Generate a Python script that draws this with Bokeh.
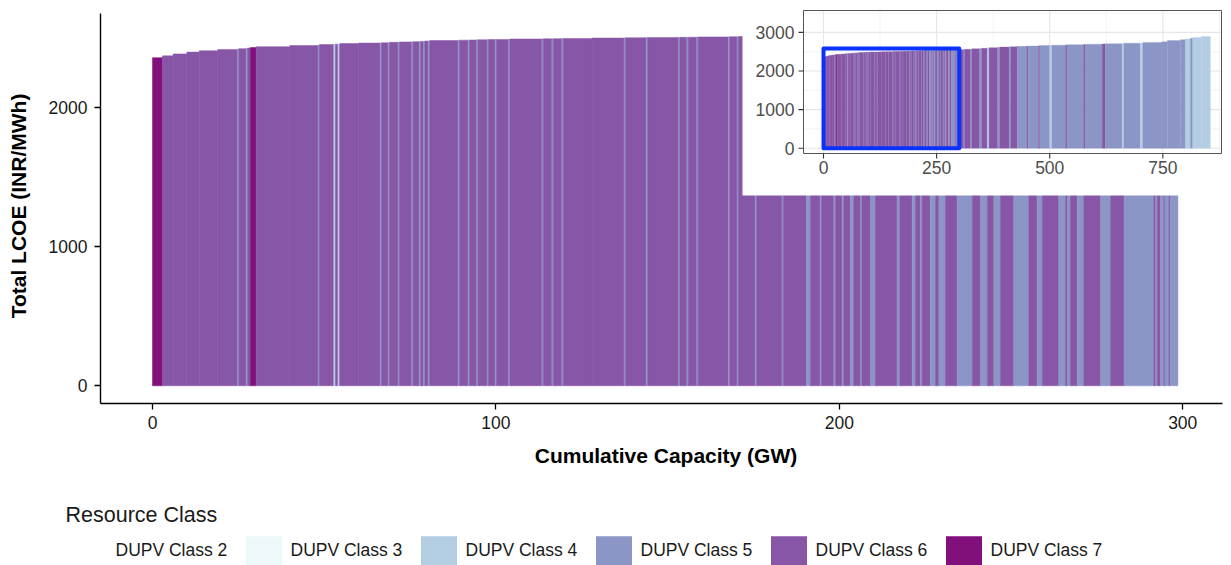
import numpy as np
from bokeh.plotting import figure
from bokeh.models import Range1d, FixedTicker, ColumnDataSource, Legend, LegendItem
from bokeh.embed import file_html
from bokeh.resources import INLINE
from bokeh.core.properties import value

# ---------------- data ----------------
class_names = ["DUPV Class 2", "DUPV Class 3", "DUPV Class 4",
               "DUPV Class 5", "DUPV Class 6", "DUPV Class 7"]
class_colors = ["#ffffff", "#edf8fb", "#b3cde3", "#8c96c6", "#8856a7", "#810f7c"]

# capacity of each site (GW), in supply-curve order
capacity_gw = [
    2.9, 3.1, 4.0, 3.6, 5.4, 5.8, 0.4, 2.1, 0.4, 0.8,
    1.7, 9.8, 8.2, 0.4, 4.2, 0.5, 0.7, 0.5, 5.5, 6.3,
    0.4, 1.9, 0.4, 2.5, 0.4, 3.6, 0.4, 1.8, 0.4, 0.8,
    0.4, 1.0, 0.4, 8.3, 0.4, 2.5, 0.4, 2.1, 0.4, 2.6,
    0.4, 2.0, 0.4, 3.5, 0.4, 9.3, 0.4, 2.5, 0.4, 2.5,
    0.4, 8.4, 9.3, 0.4, 6.1, 0.4, 9.0, 0.4, 2.0, 0.4,
    2.5, 0.4, 8.8, 0.4, 2.1, 0.4, 4.9, 0.4, 7.4, 0.4,
    6.7, 1.2, 2.8, 0.4, 3.6, 0.5, 1.9, 0.5, 1.9, 1.0,
    2.0, 0.4, 2.5, 1.4, 6.3, 0.8, 3.6, 1.0, 1.4, 0.5,
    2.4, 1.5, 1.0, 1.9, 3.4, 4.4, 2.4, 2.0, 1.9, 1.9,
    3.9, 4.4, 2.4, 1.5, 4.8, 2.0, 0.5, 0.9, 2.0, 1.9,
    4.9, 2.9, 3.9, 8.7, 0.5, 0.5, 0.9, 1.0, 0.3, 1.2,
    0.3, 2.3,
    11.4, 2.0, 13.0, 3.0, 17.0, 5.0, 12.0, 4.0, 19.0, 5.0,
    20.0, 4.0, 14.0, 22.0, 3.0, 22.0, 3.0, 22.0, 5.0, 30.0,
    3.0, 37.0, 3.0, 38.0, 7.0, 37.0, 4.0, 36.0, 6.0, 42.0,
    12.0, 29.0, 11.0, 11.0, 5.0, 19.0, 20.0,
]
# total LCOE of each site (INR/MWh)
lcoe_inr_mwh = [
    2355, 2368, 2382, 2395, 2405, 2414, 2418, 2420, 2422, 2424,
    2428, 2434, 2442, 2445, 2449, 2451, 2452, 2453, 2456, 2460,
    2461, 2462, 2463, 2465, 2466, 2468, 2469, 2470, 2471, 2472,
    2473, 2474, 2475, 2478, 2480, 2481, 2481, 2482, 2483, 2484,
    2484, 2485, 2485, 2486, 2487, 2489, 2490, 2490, 2491, 2491,
    2492, 2493, 2496, 2497, 2498, 2499, 2500, 2501, 2501, 2502,
    2502, 2503, 2504, 2505, 2505, 2506, 2507, 2508, 2510, 2511,
    2513, 2514, 2515, 2516, 2517, 2518, 2518, 2519, 2519, 2520,
    2520, 2521, 2521, 2522, 2524, 2525, 2526, 2527, 2527, 2528,
    2528, 2529, 2529, 2530, 2531, 2532, 2533, 2534, 2534, 2535,
    2536, 2537, 2538, 2538, 2539, 2540, 2540, 2541, 2541, 2542,
    2543, 2544, 2545, 2546, 2546, 2547, 2547, 2547, 2547, 2548,
    2548, 2548,
    2552, 2556, 2562, 2566, 2574, 2580, 2588, 2595, 2605, 2612,
    2620, 2625, 2630, 2638, 2642, 2648, 2652, 2660, 2664, 2670,
    2675, 2682, 2686, 2695, 2700, 2708, 2712, 2720, 2726, 2740,
    2755, 2790, 2810, 2830, 2845, 2865, 2893,
]
# DUPV resource class of each site
resource_class = [
    7, 6, 6, 6, 6, 6, 5, 6, 5, 6,
    7, 6, 6, 5, 6, 4, 6, 4, 6, 6,
    5, 6, 5, 6, 5, 6, 5, 6, 5, 6,
    5, 6, 5, 6, 5, 6, 5, 6, 5, 6,
    5, 6, 5, 6, 5, 6, 5, 6, 5, 6,
    5, 6, 6, 5, 6, 5, 6, 5, 6, 5,
    6, 5, 6, 5, 6, 5, 6, 5, 6, 5,
    6, 5, 6, 5, 6, 5, 6, 5, 6, 5,
    6, 5, 6, 5, 6, 5, 6, 5, 6, 5,
    6, 5, 6, 5, 6, 5, 6, 5, 6, 5,
    6, 5, 6, 5, 6, 5, 6, 5, 6, 5,
    6, 5, 6, 5, 6, 5, 6, 5, 6, 5,
    6, 5,
    6, 5, 6, 5, 6, 5, 6, 4, 6, 5,
    6, 5, 6, 5, 6, 5, 6, 5, 4, 5,
    6, 5, 6, 5, 6, 5, 4, 5, 4, 5,
    5, 5, 5, 4, 5, 4, 4,
]

zoom_box = dict(xmin=0, xmax=300, ymin=0, ymax=2580)   # region shown in main panel
main_x_ticks = [0, 100, 200, 300]
main_y_ticks = [0, 1000, 2000]
inset_x_ticks = [0, 250, 500, 750]
inset_y_ticks = [0, 1000, 2000, 3000]
inset_x_minor = [125, 375, 625, 875]
inset_y_minor = [500, 1500, 2500, 3500]

# ---------------- derived ----------------
cap = np.array(capacity_gw, dtype=float)
right = np.cumsum(cap)
left = right - cap
cls = np.array(resource_class)
color_of = {c: class_colors[c - 2] for c in range(2, 8)}
colors = [color_of[c] for c in cls]

full_src = ColumnDataSource(dict(left=left, right=right, top=lcoe_inr_mwh,
                                 bottom=np.zeros(len(cap)), color=colors))
mask = right <= zoom_box["xmax"] + 0.01
main_src = ColumnDataSource(dict(left=left[mask], right=right[mask],
                                 top=np.array(lcoe_inr_mwh)[mask],
                                 bottom=np.zeros(mask.sum()),
                                 color=np.array(colors)[mask]))

FONT = "Liberation Sans"

# ---------------- main figure ----------------
BL, BT = 100, 8          # frame offset inside the page
FW, FH = 1131, 395
X0, X1 = -15.14, 314.2
Y0, Y1 = -127.0, 2708.0
p = figure(frame_width=FW, frame_height=FH,
           x_range=Range1d(X0, X1), y_range=Range1d(Y0, Y1),
           output_backend="svg", toolbar_location=None,
           min_border_left=BL, min_border_right=0, min_border_top=BT,
           min_border_bottom=75)
p.outline_line_color = None
p.grid.visible = False
p.background_fill_color = "white"
p.border_fill_color = "white"

p.quad(left="left", right="right", bottom="bottom", top="top", source=main_src,
       fill_color="color", line_color="color", line_width=0.5)

for ax in (p.xaxis[0], p.yaxis[0]):
    ax.axis_line_color = "black"
    ax.axis_line_width = 1.4
    ax.major_tick_line_color = "black"
    ax.major_tick_line_width = 1.3
    ax.major_tick_out = 6
    ax.major_tick_in = 0
    ax.minor_tick_line_color = None
    ax.major_label_text_font = FONT
    ax.major_label_text_font_size = "17.5px"
    ax.major_label_text_color = "#1a1a1a"
    ax.axis_label_text_font = FONT
    ax.axis_label_text_font_size = "21px"
    ax.axis_label_text_font_style = "bold"
    ax.axis_label_text_color = "black"

p.xaxis.ticker = FixedTicker(ticks=main_x_ticks)
p.yaxis.ticker = FixedTicker(ticks=main_y_ticks)
p.xaxis.bounds = (X0, 311.6)
p.yaxis.bounds = (Y0, 2675)
p.xaxis.axis_label = "Cumulative Capacity (GW)"
p.yaxis.axis_label = "Total LCOE (INR/MWh)"
p.xaxis.major_label_standoff = 6
p.yaxis.major_label_standoff = 7
p.xaxis.axis_label_standoff = 12
p.yaxis.axis_label_standoff = 16


# page-pixel -> main data helpers (layout only)
def mx(px):
    return X0 + (px - BL) * (X1 - X0) / FW


def my(py):
    return Y1 - (py - BT) * (Y1 - Y0) / FH


# white background of the inset
p.quad(left=[mx(742)], right=[mx(1240)], bottom=[my(195)], top=[my(0)],
       fill_color="white", line_color=None)

# ---------------- inset (sub-coordinates) ----------------
IX0, IX1 = -44.2, 879.6
IY0, IY1 = -137.0, 3567.0
sub = p.subplot(x_source=Range1d(IX0, IX1), y_source=Range1d(IY0, IY1),
                x_target=Range1d(mx(803), mx(1221)),
                y_target=Range1d(my(153), my(10)))
ppx = (1221 - 803) / (IX1 - IX0)
ppy = (153 - 10) / (IY1 - IY0)

# grid
sub.segment(x0=inset_x_minor, x1=inset_x_minor, y0=[IY0] * 4, y1=[IY1] * 4,
            line_color="#ececec", line_width=0.6)
sub.segment(x0=[IX0] * 4, x1=[IX1] * 4, y0=inset_y_minor, y1=inset_y_minor,
            line_color="#ececec", line_width=0.6)
sub.segment(x0=inset_x_ticks, x1=inset_x_ticks, y0=[IY0] * 4, y1=[IY1] * 4,
            line_color="#e6e6e6", line_width=1.1)
sub.segment(x0=[IX0] * 4, x1=[IX1] * 4, y0=inset_y_ticks, y1=inset_y_ticks,
            line_color="#e6e6e6", line_width=1.1)

# bars
sub.quad(left="left", right="right", bottom="bottom", top="top", source=full_src,
         fill_color="color", line_color="color", line_width=0.3)

# panel border
sub.quad(left=[IX0], right=[IX1], bottom=[IY0], top=[IY1],
         fill_color=None, line_color="#555555", line_width=1.0)

# zoom rectangle
sub.quad(left=[zoom_box["xmin"]], right=[zoom_box["xmax"]],
         bottom=[zoom_box["ymin"]], top=[zoom_box["ymax"]],
         fill_color=None, line_color="#0a32ff", line_width=4, line_join="round")

# ticks
sub.segment(x0=[IX0] * 4, x1=[IX0 - 5 / ppx] * 4, y0=inset_y_ticks, y1=inset_y_ticks,
            line_color="#333333", line_width=1.1)
sub.segment(x0=inset_x_ticks, x1=inset_x_ticks, y0=[IY0] * 4, y1=[IY0 - 5 / ppy] * 4,
            line_color="#333333", line_width=1.1)
sub.text(x=inset_x_ticks, y=[IY0] * 4, text=[str(v) for v in inset_x_ticks],
         y_offset=7, text_align="center", text_baseline="top",
         text_font=value(FONT), text_font_size="17.5px", text_color="#4d4d4d")
sub.text(x=[IX0] * 4, y=inset_y_ticks, text=[str(v) for v in inset_y_ticks],
         x_offset=-9, text_align="right", text_baseline="middle",
         text_font=value(FONT), text_font_size="17.5px", text_color="#4d4d4d")

# ---------------- legend strip (separate root below the plot) ----------------
lf = figure(width=1231, height=87, x_range=Range1d(0, 1), y_range=Range1d(0, 1),
            output_backend="svg", toolbar_location=None, min_border=0,
            min_border_left=0, min_border_right=0, min_border_top=0,
            min_border_bottom=0, x_axis_location=None, y_axis_location=None)
lf.outline_line_color = None
lf.grid.visible = False
items = []
for name, col in zip(class_names, class_colors):
    # key renderer placed outside the visible range; it only supplies the legend key
    r = lf.quad(left=[-5], right=[-4], top=[-4], bottom=[-5], fill_color=col, line_color=None)
    items.append(LegendItem(label=name, renderers=[r]))
leg = Legend(items=items, orientation="horizontal", location=(65.5, -4),
             title="Resource Class", title_text_font=FONT,
             title_text_font_size="21.5px", title_text_font_style="normal",
             title_text_color="#1a1a1a", title_standoff=4,
             label_text_font=FONT, label_text_font_size="17.5px",
             label_text_color="#1a1a1a",
             glyph_width=45, glyph_height=37, label_standoff=5,
             label_width=125, spacing=0, padding=0, margin=0,
             border_line_color=None, background_fill_alpha=0)
lf.add_layout(leg, "center")

open("out.html", "w").write(file_html([p, lf], INLINE))
